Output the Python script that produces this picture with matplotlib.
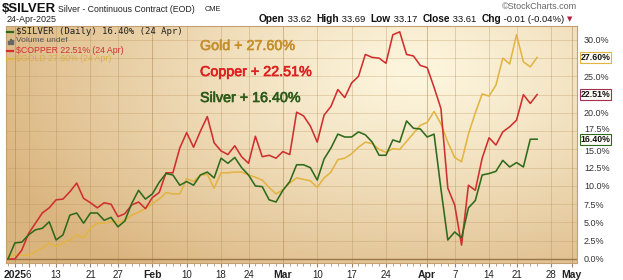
import numpy as np
import pandas as pd
import matplotlib
matplotlib.use("Agg")
import matplotlib.pyplot as plt
import matplotlib.patheffects as pe
from matplotlib.lines import Line2D
from matplotlib.patches import Rectangle
from matplotlib.transforms import blended_transform_factory, ScaledTranslation

plt.rcParams['font.family'] = ['Liberation Sans', 'DejaVu Sans']

# ---------------- data ----------------
holidays = ['2025-01-01', '2025-01-09', '2025-01-20', '2025-02-17', '2025-04-18']
all_days = pd.bdate_range('2024-12-31', '2025-05-02')
trade_days = [d.strftime('%Y-%m-%d') for d in all_days if d.strftime('%Y-%m-%d') not in holidays]

silver = [0.0, 2.2, 2.3, 3.3, 4.0, 4.2, 5.1, 2.6, 3.3, 6.0,
          6.3, 4.9, 6.3, 6.3, 5.3, 5.7, 4.4, 5.2, 7.6, 9.4,
          8.2, 8.9, 10.5, 11.7, 11.5, 10.1, 10.6, 10.1, 11.5, 11.9,
          11.1, 13.8, 13.1, 13.9, 12.5, 11.5, 10.0, 9.9, 8.1, 7.8,
          9.4, 10.6, 12.9, 12.9, 12.5, 10.8, 13.7, 15.2, 17.1, 16.7,
          16.7, 17.4, 17.0, 16.0, 14.2, 14.2, 16.3, 16.0, 18.9, 17.9,
          17.8, 16.7, 17.1, 9.6, 2.6, 3.7, 2.9, 7.0, 8.0, 11.5,
          11.7, 12.0, 13.5, 12.6, 13.2, 12.6, 16.4, 16.40]
copper = [0.0, 0.0, 1.2, 3.5, 4.9, 6.3, 7.0, 8.1, 8.2, 9.2,
          10.4, 8.3, 7.7, 7.0, 7.7, 7.5, 5.8, 6.2, 7.4, 7.8,
          6.9, 8.4, 9.1, 11.8, 11.8, 15.2, 17.3, 15.3, 17.5, 19.5,
          15.9, 14.8, 14.3, 15.5, 14.0, 13.1, 16.8, 14.0, 14.2, 13.8,
          14.7, 14.3, 20.1, 19.6, 18.2, 16.0, 19.7, 20.9, 23.2, 22.1,
          24.1, 25.0, 28.0, 27.6, 27.5, 26.8, 30.7, 31.1, 28.0, 27.8,
          26.5, 26.2, 23.5, 20.6, 9.7, 7.4, 1.9, 10.1, 9.4, 13.8,
          16.6, 15.6, 17.4, 18.1, 19.0, 22.5, 21.3, 22.51]
gold = [0.0, 0.7, 0.5, 0.5, 1.0, 1.5, 2.2, 1.7, 2.2, 2.6,
        3.3, 2.9, 4.2, 4.9, 4.9, 5.2, 5.0, 5.3, 6.0, 6.4,
        6.9, 7.6, 8.2, 9.1, 8.9, 8.9, 11.0, 10.6, 11.5, 11.6,
        9.7, 11.8, 11.8, 11.9, 11.9, 11.5, 11.2, 10.8, 9.8, 8.9,
        9.5, 10.4, 11.1, 10.9, 10.7, 9.8, 11.1, 11.9, 13.6, 13.8,
        14.4, 15.3, 16.0, 15.8, 15.0, 14.6, 15.1, 15.0, 16.1, 17.2,
        18.3, 18.7, 20.2, 18.5, 16.0, 13.9, 13.3, 17.1, 20.0, 22.6,
        22.3, 23.8, 27.5, 26.7, 30.7, 27.0, 26.3, 27.60]

tick_dates = ['2025-01-02', '2025-01-06', '2025-01-13', '2025-01-21', '2025-01-27',
              '2025-02-03', '2025-02-10', '2025-02-18', '2025-02-24',
              '2025-03-03', '2025-03-10', '2025-03-17', '2025-03-24',
              '2025-04-01', '2025-04-07', '2025-04-14', '2025-04-21', '2025-04-28',
              '2025-05-01']
tick_labels = ['2025', '6', '13', '21', '27', 'Feb', '10', '18', '24',
               'Mar', '10', '17', '24', 'Apr', '7', '14', '21', '28', 'May']
bold_labels = ['2025', 'Feb', 'Mar', 'Apr', 'May']

y_ticks = [0.0, 2.5, 5.0, 7.5, 10.0, 12.5, 15.0, 17.5, 20.0, 22.5, 25.0, 27.5, 30.0]
hidden_y = [22.5, 27.5]

last_labels = {'gold': 'Gold + 27.60%', 'copper': 'Copper + 22.51%', 'silver': 'Silver + 16.40%'}

# ---------------- styling ----------------
W, H = 623, 280
C_SILVER = '#2f6a1c'
C_COPPER = '#cf2f2f'
C_GOLD = '#e2b443'


def fx(px):
    return px / W


def fy(py):
    return 1 - py / H


fig = plt.figure(figsize=(W / 100, H / 100), dpi=100)
fig.patch.set_facecolor('white')

ax = fig.add_axes([fx(6), fy(263), (577 - 6) / W, (263 - 26) / H])
x0, x1 = -0.29, 82.8
y0, y1 = -0.55, 31.9

# background gradient
gx = np.linspace(0, 1, 300)
gy = np.linspace(0, 1, 200)
GX, GY = np.meshgrid(gx, gy)
r = np.sqrt(((GX - 0.72) / 0.80) ** 2 + ((GY - 0.80) / 1.05) ** 2)
t = np.clip(r, 0, 1) ** 1.2
light = np.array([253, 246, 222]) / 255
dark = np.array([218, 180, 126]) / 255
img = light[None, None, :] * (1 - t[..., None]) + dark[None, None, :] * t[..., None]
ax.imshow(img, extent=[x0, x1, y0, y1], aspect='auto', origin='lower', zorder=0)

pos = {d: i for i, d in enumerate(trade_days)}
xt = [pos[d] for d in tick_dates]
x = np.arange(len(silver))

# grid
for v in y_ticks:
    ax.axhline(v, color='#b89058', alpha=0.35, lw=0.6, zorder=1)
for lab, p in zip(tick_labels, xt):
    a = 0.55 if lab in bold_labels else 0.35
    ax.axvline(p, color='#a88048', alpha=a, lw=0.6, zorder=1)
ax.axhline(0, color='#9a7548', lw=1.0, zorder=2)

ax.plot(x, gold, color=C_GOLD, lw=1.15, zorder=3)
ax.plot(x, copper, color=C_COPPER, lw=1.15, zorder=4)
ax.plot(x, silver, color=C_SILVER, lw=1.15, zorder=5)

ax.set_xlim(x0, x1)
ax.set_ylim(y0, y1)

ax.set_xticks(xt)
ax.set_xticklabels(tick_labels)
for tl in ax.get_xticklabels():
    if tl.get_text() in bold_labels:
        tl.set_fontweight('bold')
        tl.set_fontsize(7.5)
    else:
        tl.set_fontsize(7)
    tl.set_color('#222222')
ax.set_xticks(x, minor=True)
ax.tick_params(axis='x', which='major', length=3, color='#a08060', pad=2)
ax.tick_params(axis='x', which='minor', length=2, color='#b09070')

ax.yaxis.tick_right()
ax.set_yticks(y_ticks)
ax.set_yticklabels(['' if v in hidden_y else f'{v:.1f}%' for v in y_ticks])
ax.tick_params(axis='y', length=0, pad=5, labelsize=6.5, labelcolor='#333333')
for v, tl in zip(y_ticks, ax.get_yticklabels()):
    if v == 17.5:
        tl.set_transform(tl.get_transform() + ScaledTranslation(0, 3 / 100, fig.dpi_scale_trans))
    if v == 15.0:
        tl.set_transform(tl.get_transform() + ScaledTranslation(0, -1.5 / 100, fig.dpi_scale_trans))

for s in ax.spines.values():
    s.set_color('#c4a070')
    s.set_linewidth(0.8)

# value tags on right axis
trans = blended_transform_factory(ax.transAxes, ax.transData)
for val, col in [(gold[-1], C_GOLD), (copper[-1], '#a03050'), (silver[-1], C_SILVER)]:
    ax.text(1.006, val, f'{val:.2f}%', transform=trans, ha='left', va='center',
            fontsize=6.3, fontweight='bold', color='#111111', zorder=10,
            bbox=dict(boxstyle='square,pad=0.1', fc='#fffdf5', ec=col, lw=0.8),
            clip_on=False)

# big annotations
stroke = lambda c: [pe.withStroke(linewidth=0.45, foreground=c)]
fig.text(fx(200), fy(46), last_labels['gold'], color='#c4902c', fontsize=10.3,
         ha='left', va='center', path_effects=stroke('#c4902c'))
fig.text(fx(200), fy(72), last_labels['copper'], color='#dd2020', fontsize=10.3,
         ha='left', va='center', path_effects=stroke('#dd2020'))
fig.text(fx(200), fy(98), last_labels['silver'], color='#2d5a1b', fontsize=10.3,
         ha='left', va='center', path_effects=stroke('#2d5a1b'))


# legend inside plot
def legend_line(py, col):
    fig.add_artist(Line2D([fx(7), fx(13)], [fy(py), fy(py)], color=col, lw=1.6))


legend_line(32, C_SILVER)
fig.text(fx(16), fy(32), r'\$SILVER (Daily) 16.40% (24 Apr)', family='DejaVu Sans Mono',
         fontsize=6.5, color='#222222', va='center', ha='left')
for i, h in enumerate([3, 5, 4]):
    fig.add_artist(Rectangle((fx(8 + i * 2), fy(44)), fx(1.4), h / H,
                             color='#666666', transform=fig.transFigure))
fig.text(fx(16), fy(40.5), 'Volume undef', fontsize=6, color='#555555', va='center')
legend_line(50.5, C_COPPER)
fig.text(fx(16), fy(50.5), r'\$COPPER 22.51% (24 Apr)', fontsize=6.3, color=C_COPPER,
         va='center')
legend_line(58.5, C_GOLD)
fig.text(fx(16), fy(58.5), r'\$GOLD 27.60% (24 Apr)', fontsize=6.3, color='#d8a838',
         va='center', alpha=0.75)

# header
fig.text(fx(2), fy(9), r'\$SILVER', fontsize=9.5, fontweight='bold', color='#111111',
         va='center')
fig.text(fx(58), fy(9.5), 'Silver - Continuous Contract (EOD)', fontsize=6.3,
         color='#222222', va='center')
fig.text(fx(205), fy(9.5), 'CME', fontsize=5.3, color='#222222', va='center')
fig.text(fx(7), fy(20), '24-Apr-2025', fontsize=6.5, color='#222222', va='center')
fig.text(fx(577), fy(6.5), '\u00a9StockCharts.com', fontsize=6.5, color='#666666',
         va='center', ha='right')

# right header pieces, laid out left to right
pieces = [('Open', True), (' 33.62  ', False), ('High', True), (' 33.69  ', False),
          ('Low', True), (' 33.17  ', False), ('Close', True), (' 33.61  ', False),
          ('Chg', True), (' -0.01 (-0.04%) ', False)]
fig.canvas.draw()
renderer = fig.canvas.get_renderer()
cur = 259
for txt, bold in pieces:
    t_ = fig.text(fx(cur), fy(19.5), txt, fontsize=7.3 if bold else 6.8,
                  fontweight='bold' if bold else 'normal', color='#111111', va='center')
    bb = t_.get_window_extent(renderer=renderer)
    cur += bb.width
fig.text(fx(cur), fy(19.5), '\u25bc', fontsize=5, color='#b02040', va='center',
         family='DejaVu Sans')

fig.savefig('out.png', dpi=100)
